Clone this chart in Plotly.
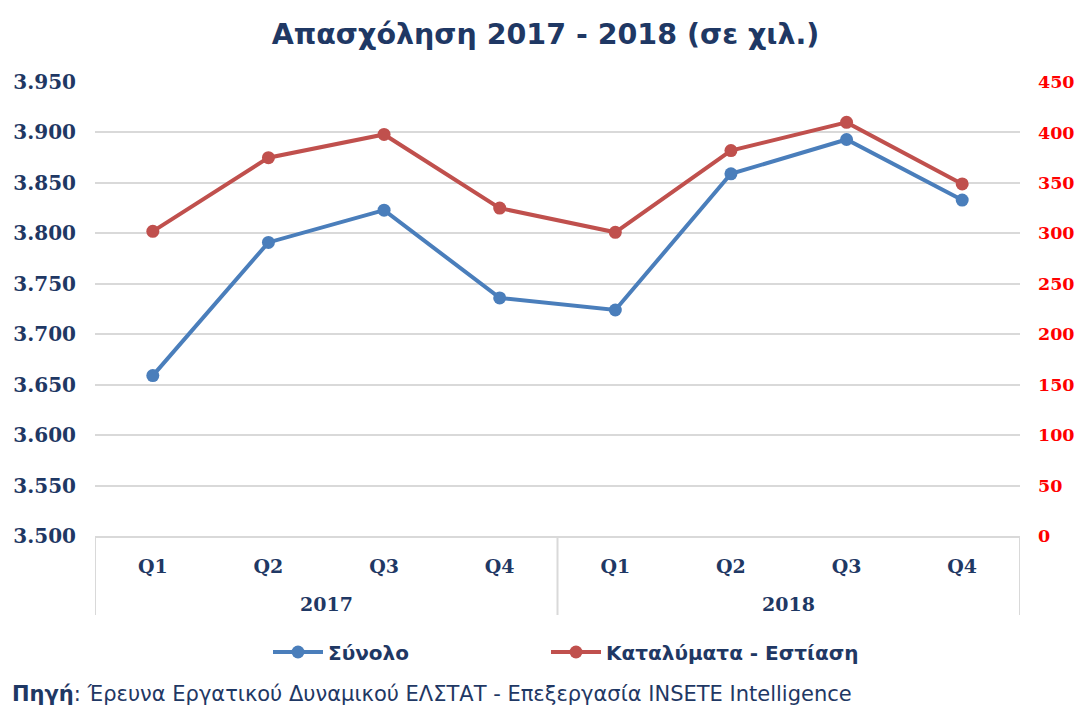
import plotly.graph_objects as go

years = ["2017"] * 4 + ["2018"] * 4
quarters = ["Q1", "Q2", "Q3", "Q4", "Q1", "Q2", "Q3", "Q4"]
total = [3659, 3791, 3823, 3736, 3724, 3859, 3893, 3833]
accommodation = [302, 375, 398, 325, 301, 382, 410, 349]

left_ticks = list(range(3500, 3951, 50))
left_labels = [f"{v // 1000}.{v % 1000:03d}" for v in left_ticks]
right_ticks = list(range(0, 451, 50))

NAVY = "#1F3864"
BLUE = "#4A7EBB"
RED = "#C0504D"
SANS = "DejaVu Sans"
SERIF = "DejaVu Serif"
GRID = "#D9D9D9"

cats = [f"{q} {y}" for q, y in zip(quarters, years)]

fig = go.Figure()
fig.add_trace(go.Scatter(
    x=cats, y=total, name="Σύνολο", mode="lines+markers", legend="legend",
    line=dict(color=BLUE, width=4), marker=dict(size=13, color=BLUE),
))
fig.add_trace(go.Scatter(
    x=cats, y=accommodation, name="Καταλύματα - Εστίαση",
    mode="lines+markers", yaxis="y2", legend="legend2",
    line=dict(color=RED, width=4), marker=dict(size=13, color=RED),
))

W, H = 1075, 701
legend_font = dict(size=20, color=NAVY, family=SANS, weight="bold")
fig.update_layout(
    width=W, height=H,
    margin=dict(l=87, r=63, t=74, b=173),
    paper_bgcolor="white", plot_bgcolor="white",
    font=dict(family=SANS, color=NAVY),
    title=dict(text="<b>Απασχόληση 2017 - 2018 (σε χιλ.)</b>", x=0.5, xanchor="center",
               y=1 - 26 / H, yanchor="middle", font=dict(size=28.5, color=NAVY, family=SANS)),
    xaxis=dict(type="category", categoryorder="array", categoryarray=cats,
               tickvals=cats, ticktext=quarters, range=[-0.5, len(cats) - 0.5],
               showgrid=False, showline=True, linecolor=GRID, linewidth=2,
               ticks="", ticklabelstandoff=12, automargin=False,
               tickfont=dict(size=19, color=NAVY, family=SERIF, weight="bold")),
    yaxis=dict(range=[3500, 3950], tickvals=left_ticks, ticktext=left_labels,
               showgrid=True, gridcolor=GRID, gridwidth=2, zeroline=False,
               showline=False, ticks="", ticklabelstandoff=18, automargin=False,
               tickfont=dict(size=20, color=NAVY, family=SERIF, weight="bold")),
    yaxis2=dict(range=[0, 450], tickvals=right_ticks, overlaying="y", side="right",
                showgrid=False, zeroline=False, showline=False, ticks="",
                ticklabelstandoff=17, automargin=False,
                tickfont=dict(size=17.5, color="#FF0000", family=SERIF, weight="bold")),
    showlegend=True,
    legend=dict(orientation="h", x=(268 - 95) / 925, xanchor="left",
                y=-(652 - 536) / 454, yanchor="middle", font=legend_font, itemwidth=50),
    legend2=dict(orientation="h", x=(546 - 95) / 925, xanchor="left",
                 y=-(652 - 536) / 454, yanchor="middle", font=legend_font, itemwidth=50),
)

# group dividers and year labels for the two-level category axis
groups = []
for i, y in enumerate(years):
    if not groups or groups[-1][0] != y:
        groups.append([y, i, i])
    else:
        groups[-1][2] = i
edges = sorted({g[1] - 0.5 for g in groups} | {g[2] + 0.5 for g in groups})
for e in edges:
    fig.add_shape(type="line", xref="x", yref="paper", x0=e, x1=e, y0=0,
                  y1=-(615 - 536) / 454, line=dict(color=GRID, width=2))
for y, a, b in groups:
    fig.add_annotation(text=f"<b>{y}</b>", xref="x", yref="paper", x=(a + b) / 2,
                       y=-(604 - 536) / 454, yanchor="middle", showarrow=False,
                       font=dict(size=19, color=NAVY, family=SERIF))

fig.add_annotation(
    text="<b>Πηγή</b>: Έρευνα Εργατικού Δυναμικού ΕΛΣΤΑΤ - Επεξεργασία INSETE Intelligence",
    xref="paper", yref="paper", x=-85 / 925, y=-(694 - 536) / 454, xanchor="left",
    yanchor="middle", showarrow=False, font=dict(size=21, color=NAVY, family=SANS),
)

fig.write_html("out.html")
